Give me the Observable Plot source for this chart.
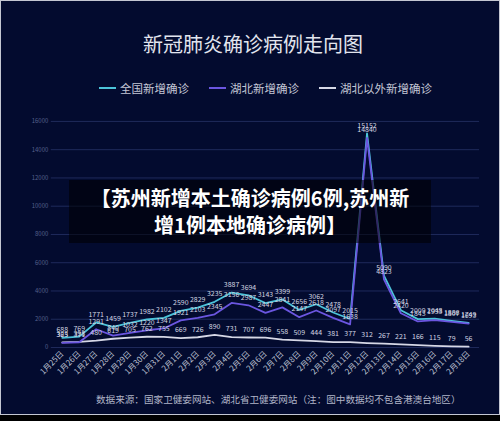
<!DOCTYPE html>
<html>
<head>
<meta charset="utf-8">
<script src="https://cdn.jsdelivr.net/npm/d3@7"></script>
<script src="https://cdn.jsdelivr.net/npm/@observablehq/plot@0.6"></script>
<style>
  html, body { margin: 0; padding: 0; background: #000; }
  body { width: 500px; height: 421px; overflow: hidden; font-family: "Noto Sans CJK SC", "Noto Sans", sans-serif; }
  #wrap { position: relative; width: 500px; height: 415px; box-sizing: border-box; border: 1px solid #c4c7d2; background: #030b2f; overflow: hidden; }
  #title { position: absolute; left: 0; width: 504px; top: 29px; text-align: center; font-size: 20px; line-height: 28px; color: #e2e5ee; }
  .leg { position: absolute; top: 79px; height: 16px; display: flex; align-items: center; font-size: 11.5px; color: #c3c7d6; white-space: nowrap; }
  .leg i { display: inline-block; width: 17px; height: 2px; margin-right: 4px; }
  #chart { position: absolute; left: 0; top: 100px; }
  #footer { position: absolute; left: 95px; top: 390px; font-size: 9.6px; line-height: 16px; color: #b1b5c8; white-space: nowrap; }
  #banner { position: absolute; left: 68px; top: 179px; width: 362px; height: 63px; background: rgba(0,0,0,0.55); color: #fff; font-weight: bold; font-size: 20px; line-height: 27px; text-align: center; padding-top: 4px; box-sizing: border-box; white-space: nowrap; }
</style>
</head>
<body>
<div id="wrap">
  <div id="title">新冠肺炎确诊病例走向图</div>
  <div class="leg" style="left:98px"><i style="background:#4cc3d9"></i>全国新增确诊</div>
  <div class="leg" style="left:208px"><i style="background:#6b56e0"></i>湖北新增确诊</div>
  <div class="leg" style="left:318px"><i style="background:#d6d8e6"></i>湖北以外新增确诊</div>
  <div id="chart"></div>
  <div id="footer">数据来源：国家卫健委网站、湖北省卫健委网站（注：图中数据均不包含港澳台地区）</div>
  <div id="banner">【苏州新增本土确诊病例6例,苏州新<br>增1例本地确诊病例】</div>
</div>
<script>
const dates = ["1月25日","1月26日","1月27日","1月28日","1月29日","1月30日","1月31日","2月1日","2月2日","2月3日","2月4日","2月5日","2月6日","2月7日","2月8日","2月9日","2月10日","2月11日","2月12日","2月13日","2月14日","2月15日","2月16日","2月17日","2月18日"];
const national = [688,769,1771,1459,1737,1982,2102,2590,2829,3235,3887,3694,3143,3399,2656,3062,2478,2015,15152,5090,2641,2009,2048,1886,1749];
const hubei = [323,371,1291,840,1032,1220,1347,1921,2103,2345,3156,2987,2447,2841,2147,2618,2097,1638,14840,4823,2420,1843,1933,1807,1693];
const outside = [365,398,480,619,705,762,755,669,726,890,731,707,696,558,509,444,381,377,312,267,221,166,115,79,56];
const yTicks = [0,2000,4000,6000,8000,10000,12000,14000,16000];

const seriesNames = ["全国新增确诊","湖北新增确诊","湖北以外新增确诊"];
const seriesColors = ["#4cc3d9","#6b56e0","#d6d8e6"];
const toRows = (vals, name) => vals.map((v, i) => ({date: dates[i], value: v, series: name}));
const rowsN = toRows(national, seriesNames[0]);
const rowsH = toRows(hubei, seriesNames[1]);
const rowsO = toRows(outside, seriesNames[2]);

const chart = Plot.plot({
  width: 500,
  height: 290,
  marginLeft: 50,
  marginRight: 20,
  marginTop: 20,
  marginBottom: 43,
  style: {background: "transparent", fontFamily: "'Noto Sans CJK SC', 'Noto Sans', sans-serif"},
  x: {type: "point", domain: dates, padding: 0.5, label: null},
  y: {domain: [0, 16000], label: null},
  marks: [
    Plot.gridY(yTicks, {stroke: "#1f2a5c", strokeOpacity: 1, strokeWidth: 1}),
    Plot.axisY({ticks: yTicks, tickFormat: d => String(d), tickSize: 0, tickPadding: 3, fontSize: 6, fill: "#56608c", label: null}),
    Plot.axisX({tickRotate: -45, tickSize: 0, tickPadding: 5, fontSize: 8, fill: "#bcc0d2", label: null}),
    Plot.line(rowsO, {x: "date", y: "value", stroke: seriesColors[2], strokeWidth: 1.8}),
    Plot.line(rowsN, {x: "date", y: "value", stroke: seriesColors[0], strokeWidth: 1.8}),
    Plot.line(rowsH, {x: "date", y: "value", stroke: seriesColors[1], strokeWidth: 1.8}),
    Plot.text(rowsN, {x: "date", y: "value", text: d => String(d.value), dy: -8, fontSize: 7, fill: "#d3d6e2"}),
    Plot.text(rowsH, {x: "date", y: "value", text: d => String(d.value), dy: -8, fontSize: 7, fill: "#d3d6e2"}),
    Plot.text(rowsO, {x: "date", y: "value", text: d => String(d.value), dy: -8, fontSize: 7, fill: "#d3d6e2"})
  ]
});
document.getElementById("chart").appendChild(chart);
</script>
</body>
</html>
